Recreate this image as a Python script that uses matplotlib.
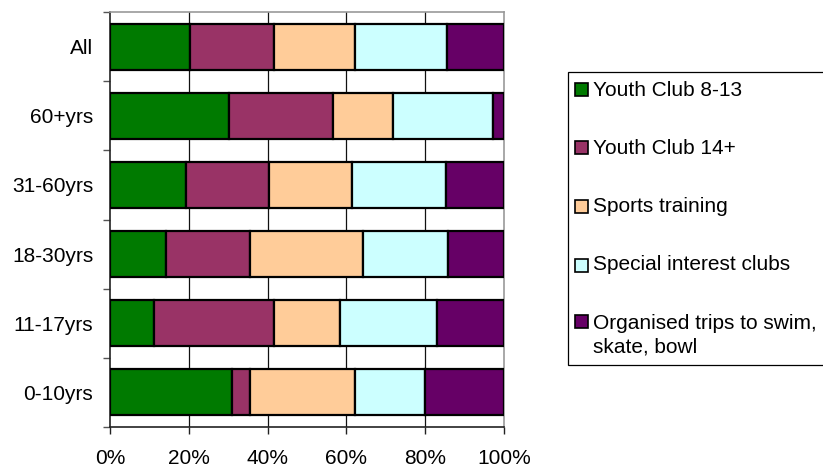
import matplotlib
matplotlib.use("Agg")
import matplotlib.pyplot as plt
from matplotlib.patches import Rectangle
import numpy as np

plt.rcParams['font.family'] = ['Liberation Sans', 'DejaVu Sans']

categories = ['All', '60+yrs', '31-60yrs', '18-30yrs', '11-17yrs', '0-10yrs']
series_names = ['Youth Club 8-13', 'Youth Club 14+', 'Sports training',
                'Special interest clubs', 'Organised trips to swim,\nskate, bowl']
youth_8_13 = [20.4, 30.3, 19.4, 14.1, 11.2, 31.0]
youth_14 = [21.2, 26.4, 20.9, 21.4, 30.3, 4.5]
sports = [20.5, 15.2, 21.0, 28.8, 17.0, 26.8]
special = [23.5, 25.4, 24.1, 21.5, 24.4, 17.6]
trips = [14.4, 2.7, 14.6, 14.2, 17.1, 20.1]
colors = ['#007A00', '#993366', '#FFCC99', '#CCFFFF', '#660066']
x_ticks = [0, 20, 40, 60, 80, 100]
x_tick_labels = ['0%', '20%', '40%', '60%', '80%', '100%']

W, H = 823, 468
fig = plt.figure(figsize=(W / 100, H / 100), dpi=100)
ax = fig.add_axes([110 / W, (H - 427) / H, 394 / W, 415 / H])

data = np.array([youth_8_13, youth_14, sports, special, trips])
totals = data.sum(axis=0)
pct = data / totals * 100
y = np.arange(len(categories))
left = np.zeros(len(categories))
for i, name in enumerate(series_names):
    ax.barh(y, pct[i], left=left, height=0.665, color=colors[i],
            edgecolor='black', linewidth=1.6, zorder=3, label=name)
    left += pct[i]

ax.set_xlim(0, 100)
ax.set_ylim(len(categories) - 0.5, -0.5)
ax.set_xticks(x_ticks)
ax.set_xticklabels(x_tick_labels, fontsize=15)
ax.set_yticks(y)
ax.set_yticklabels(categories, fontsize=15)
ax.tick_params(axis='y', which='major', length=0, pad=12)
ax.set_yticks(np.arange(len(categories) + 1) - 0.5, minor=True)
ax.tick_params(axis='y', which='minor', length=5, width=1, color='#555555', direction='out')
ax.tick_params(axis='x', length=5, width=1, direction='out', pad=11, color='#222222')

for xv in x_ticks[1:-1]:
    ax.axvline(xv, color='#111111', linewidth=0.9, zorder=1)

ax.spines['left'].set_color('#222222')
ax.spines['bottom'].set_color('#222222')
ax.spines['left'].set_linewidth(1.2)
ax.spines['bottom'].set_linewidth(1.2)
ax.spines['top'].set_color('#999999')
ax.spines['right'].set_color('#999999')
ax.spines['top'].set_linewidth(1.2)
ax.spines['right'].set_linewidth(1.2)

# Legend (drawn manually in figure pixel coordinates)
def fx(px):
    return px / W

def fy(py):
    return 1 - py / H

frame = Rectangle((fx(567.7), fy(365)), fx(845) - fx(567.7), fy(72.3) - fy(365),
                  transform=fig.transFigure, facecolor='white', edgecolor='black',
                  linewidth=0.9, clip_on=False)
fig.patches.append(frame)
row_y = [90, 148, 206.7, 265, 321.7]
sq = 13
for i, name in enumerate(series_names):
    cy = row_y[i]
    fig.patches.append(Rectangle((fx(575), fy(cy + sq / 2)), fx(sq), sq / H,
                                 transform=fig.transFigure, facecolor=colors[i],
                                 edgecolor='black', linewidth=1.2))
    if '\n' in name:
        fig.text(fx(593), fy(cy + 13.6), name, fontsize=15, va='center',
                 ha='left', linespacing=1.3)
    else:
        fig.text(fx(593), fy(cy), name, fontsize=15, va='center', ha='left')

fig.savefig('out.png', dpi=100)
